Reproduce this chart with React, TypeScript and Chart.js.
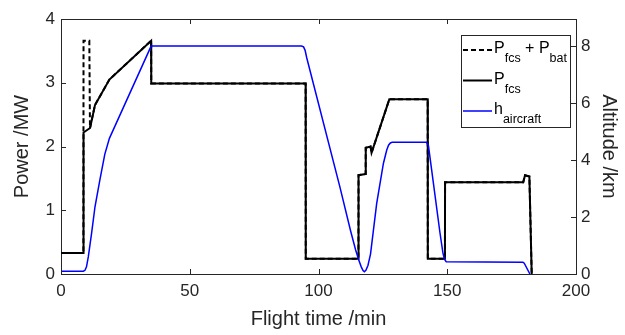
import React, { useEffect, useRef } from "react";
import { Chart, registerables } from "chart.js";

Chart.register(...registerables);

// ---- Data ----
const fcsTime = [0, 8.7, 8.75, 11.3, 13.2, 18.8, 35, 35.05, 95, 95.05, 115.5, 115.55, 118.3, 118.35, 120.2, 120.6, 127.5, 142.4, 142.45, 149.1, 149.15, 179.5, 180.2, 181.9, 182.8];
const fcsPower = [0.33, 0.33, 2.22, 2.29, 2.65, 3.05, 3.66, 2.99, 2.99, 0.24, 0.24, 1.55, 1.57, 1.98, 2.0, 1.9, 2.74, 2.74, 0.24, 0.24, 1.44, 1.44, 1.55, 1.53, 0];

const totalTime = [0, 8.7, 8.75, 11.0, 11.25, 13.2, 18.8, 35, 35.05, 95, 95.05, 115.5, 115.55, 118.3, 118.35, 120.2, 120.6, 127.5, 142.4, 142.45, 149.1, 149.15, 179.5, 180.2, 181.9, 182.8];
const totalPower = [0.33, 0.33, 3.66, 3.66, 2.29, 2.65, 3.05, 3.66, 2.99, 2.99, 0.24, 0.24, 1.55, 1.57, 1.98, 2.0, 1.9, 2.74, 2.74, 0.24, 0.24, 1.44, 1.44, 1.55, 1.53, 0];

const altTime = [0, 8.7, 9.3, 9.9, 10.6, 11.9, 13.2, 15.1, 17.0, 18.8, 35, 93.4, 94.2, 94.8, 95.4, 108.3, 112.5, 114.4, 115.6, 116.6, 117.3, 117.8, 118.4, 119.2, 120.2, 122.6, 125.2, 126.5, 127.2, 127.9, 128.6, 142.0, 142.7, 147.2, 148.3, 148.9, 149.6, 179.4, 179.9, 182.1];
const altitude = [0.1, 0.1, 0.13, 0.25, 0.6, 1.44, 2.36, 3.3, 4.2, 4.76, 8.0, 8.0, 7.97, 7.85, 7.6, 3.06, 1.5, 0.85, 0.5, 0.25, 0.12, 0.08, 0.13, 0.3, 0.7, 2.48, 3.88, 4.35, 4.52, 4.6, 4.62, 4.62, 4.5, 1.43, 0.75, 0.52, 0.43, 0.41, 0.38, 0];

const xTicks = [0, 50, 100, 150, 200];
const powerTicks = [0, 1, 2, 3, 4];
const altTicks = [0, 2, 4, 6, 8];

const FONT = "'Liberation Sans', Arial, Helvetica, sans-serif";
const AXIS = "#262626";

const pts = (xs: number[], ys: number[]) => xs.map((x, i) => ({ x, y: ys[i] }));

const frameTicksPlugin = {
  id: "frameTicks",
  afterDatasetsDraw(chart: any) {
    const { ctx, chartArea, scales } = chart;
    const { left, right, top, bottom } = chartArea;
    const len = 5;
    ctx.save();
    ctx.strokeStyle = AXIS;
    ctx.lineWidth = 1;
    ctx.beginPath();
    ctx.moveTo(left, top + 0.5);
    ctx.lineTo(right, top + 0.5);
    xTicks.forEach((v) => {
      const px = Math.round(scales.x.getPixelForValue(v)) + 0.5;
      ctx.moveTo(px, bottom);
      ctx.lineTo(px, bottom - len);
      ctx.moveTo(px, top);
      ctx.lineTo(px, top + len);
    });
    powerTicks.forEach((v) => {
      const py = Math.round(scales.y.getPixelForValue(v)) + 0.5;
      ctx.moveTo(left, py);
      ctx.lineTo(left + len, py);
    });
    altTicks.forEach((v) => {
      const py = Math.round(scales.y2.getPixelForValue(v)) + 0.5;
      ctx.moveTo(right, py);
      ctx.lineTo(right - len, py);
    });
    ctx.stroke();
    ctx.restore();
  },
};

type Seg = { t: string; sub?: boolean };

const legendEntries: { segs: Seg[]; color: string; dash: number[] }[] = [
  { segs: [{ t: "P" }, { t: "fcs", sub: true }, { t: " + P" }, { t: "bat", sub: true }], color: "#000000", dash: [5, 3] },
  { segs: [{ t: "P" }, { t: "fcs", sub: true }], color: "#000000", dash: [] },
  { segs: [{ t: "h" }, { t: "aircraft", sub: true }], color: "#0000ff", dash: [] },
];

const legendPlugin = {
  id: "subLegend",
  afterDraw(chart: any) {
    const { ctx, chartArea } = chart;
    const bw = 109;
    const bh = 92;
    const bx = chartArea.right - 6 - bw;
    const by = chartArea.top + 16;
    ctx.save();
    ctx.fillStyle = "#ffffff";
    ctx.fillRect(bx, by, bw, bh);
    ctx.strokeStyle = AXIS;
    ctx.lineWidth = 1;
    ctx.strokeRect(bx + 0.5, by + 0.5, bw, bh);
    legendEntries.forEach((e, i) => {
      const ly = by + 15 + i * 30.5;
      ctx.beginPath();
      ctx.setLineDash(e.dash);
      ctx.strokeStyle = e.color;
      ctx.lineWidth = e.color === "#0000ff" ? 1.5 : 2;
      ctx.moveTo(bx + 2, ly);
      ctx.lineTo(bx + 31, ly);
      ctx.stroke();
      ctx.setLineDash([]);
      let tx = bx + 33;
      ctx.fillStyle = "#000000";
      ctx.textBaseline = "alphabetic";
      ctx.textAlign = "left";
      e.segs.forEach((s) => {
        ctx.font = s.sub ? `12.5px ${FONT}` : `16px ${FONT}`;
        ctx.fillText(s.t, tx, ly + (s.sub ? 12 : 3));
        tx += ctx.measureText(s.t).width;
      });
    });
    ctx.restore();
  },
};

export default function App() {
  const canvasRef = useRef<HTMLCanvasElement | null>(null);

  useEffect(() => {
    if (!canvasRef.current) return;
    const tickFont = { family: FONT, size: 17 };
    const titleFont = { family: FONT, size: 20 };
    const chart = new Chart(canvasRef.current, {
      type: "line",
      data: {
        datasets: [
          {
            label: "h_aircraft",
            data: pts(altTime, altitude),
            yAxisID: "y2",
            borderColor: "#0000ff",
            borderWidth: 1.5,
            pointRadius: 0,
            tension: 0,
            fill: false,
            order: 0,
          },
          {
            label: "P_fcs + P_bat",
            data: pts(totalTime, totalPower),
            yAxisID: "y",
            borderColor: "#000000",
            borderWidth: 2,
            borderDash: [5, 3],
            pointRadius: 0,
            tension: 0,
            fill: false,
            order: 1,
          },
          {
            label: "P_fcs",
            data: pts(fcsTime, fcsPower),
            yAxisID: "y",
            borderColor: "#000000",
            borderWidth: 2,
            pointRadius: 0,
            tension: 0,
            fill: false,
            order: 2,
          },
        ],
      },
      options: {
        responsive: false,
        maintainAspectRatio: false,
        animation: false,
        devicePixelRatio: 1,
        layout: { padding: { top: 19, left: 0, right: 0, bottom: 0 } },
        plugins: { legend: { display: false }, tooltip: { enabled: false } },
        scales: {
          x: {
            type: "linear",
            min: 0,
            max: 200,
            afterBuildTicks: (s: any) => {
              s.ticks = xTicks.map((v) => ({ value: v }));
            },
            afterFit: (s: any) => {
              s.height = 61;
            },
            ticks: { font: tickFont, color: AXIS, padding: 7, maxRotation: 0, autoSkip: false },
            grid: { display: true, drawOnChartArea: false, drawTicks: false },
            border: { display: true, color: AXIS, width: 1 },
            title: { display: true, text: "Flight time /min", font: titleFont, color: AXIS, padding: { top: 0, bottom: 4 } },
          },
          y: {
            type: "linear",
            position: "left",
            min: 0,
            max: 4,
            afterBuildTicks: (s: any) => {
              s.ticks = powerTicks.map((v) => ({ value: v }));
            },
            afterFit: (s: any) => {
              s.width = 61;
            },
            ticks: { font: tickFont, color: AXIS, padding: 6 },
            grid: { display: true, drawOnChartArea: false, drawTicks: false },
            border: { display: true, color: AXIS, width: 1 },
            title: { display: true, text: "Power /MW", font: titleFont, color: AXIS, padding: { top: 10, bottom: 0 } },
          },
          y2: {
            type: "linear",
            position: "right",
            min: 0,
            max: 8.95,
            afterBuildTicks: (s: any) => {
              s.ticks = altTicks.map((v) => ({ value: v }));
            },
            afterFit: (s: any) => {
              s.width = 49;
            },
            ticks: { font: tickFont, color: AXIS, padding: 5 },
            grid: { display: true, drawOnChartArea: false, drawTicks: false },
            border: { display: true, color: AXIS, width: 1 },
            title: { display: true, text: "Altitude /km", font: titleFont, color: AXIS, padding: { top: 4, bottom: 0 } },
          },
        },
      },
      plugins: [frameTicksPlugin, legendPlugin],
    } as any);
    return () => chart.destroy();
  }, []);

  return (
    <div style={{ position: "absolute", left: 0, top: 0, width: 625, height: 335, background: "#ffffff" }}>
      <canvas ref={canvasRef} width={625} height={335} style={{ display: "block" }} />
    </div>
  );
}
